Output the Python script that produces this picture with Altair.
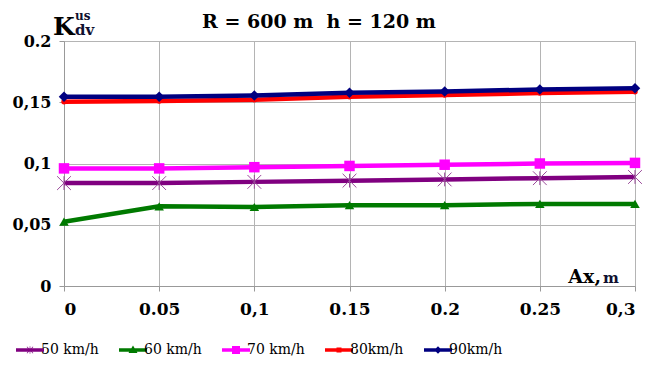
import altair as alt
import pandas as pd

ax = [0, 0.05, 0.1, 0.15, 0.2, 0.25, 0.3]
series = ["50 km/h", "60 km/h", "70 km/h", "80km/h", "90km/h"]
k50 = [0.084, 0.084, 0.085, 0.086, 0.087, 0.088, 0.089]
k60 = [0.0525, 0.065, 0.0645, 0.066, 0.066, 0.067, 0.067]
k70 = [0.096, 0.096, 0.097, 0.098, 0.099, 0.1, 0.1005]
k80 = [0.1505, 0.151, 0.152, 0.1545, 0.156, 0.1575, 0.1585]
k90 = [0.1545, 0.1545, 0.1555, 0.1578, 0.1587, 0.1605, 0.1615]
colors = ["#800080", "#007A00", "#FF00FF", "#FF0000", "#000080"]
x_ticks = [0, 0.05, 0.1, 0.15, 0.2, 0.25, 0.3]
y_ticks = [0, 0.05, 0.1, 0.15, 0.2]

rows = []
for name, vals in zip(series, [k50, k60, k70, k80, k90]):
    for a, v in zip(ax, vals):
        rows.append({"ax": a, "k": v, "series": name})
df = pd.DataFrame(rows)

FONT = "DejaVu Serif"

x_enc = alt.X("ax:Q", scale=alt.Scale(domain=[0, 0.3], nice=False),
              axis=alt.Axis(values=x_ticks, title=None,
                            labelExpr="datum.value==0?'0':datum.value==0.1?'0,1':datum.value==0.3?'0,3':format(datum.value,'.2~f')",
                            labelFont=FONT, labelFontSize=17, labelFontWeight="bold",
                            labelColor="black", labelPadding=10, tickSize=5,
                            tickColor="#999999", domainColor="#999999",
                            gridColor="#B4B4B4", gridWidth=1))
y_enc = alt.Y("k:Q", scale=alt.Scale(domain=[0, 0.2], nice=False),
              axis=alt.Axis(values=y_ticks, title=None,
                            labelExpr="datum.value==0?'0':datum.value==0.2?'0.2':replace(format(datum.value,'.2~f'),'.',',')",
                            labelFont=FONT, labelFontSize=16, labelFontWeight="bold",
                            labelColor="black", labelPadding=8, tickSize=5,
                            tickColor="#999999", domainColor="#999999",
                            gridColor="#B4B4B4", gridWidth=1))

base = alt.Chart(df)

def line(name):
    return base.transform_filter(alt.datum.series == name).mark_line(
        strokeWidth=4.5, color=colors[series.index(name)]
    ).encode(x=x_enc, y=y_enc, order=alt.Order("ax:Q"))

def pts(name, shape, size):
    return base.transform_filter(alt.datum.series == name).mark_point(
        filled=True, opacity=1, strokeWidth=0, shape=shape, size=size,
        color=colors[series.index(name)]
    ).encode(x="ax:Q", y="k:Q")

l50, l60, l70, l80, l90 = [line(s) for s in series]
p60 = pts("60 km/h", "triangle-up", 90)
p70 = pts("70 km/h", "square", 110)
p80 = pts("80km/h", "circle", 30)
p90 = pts("90km/h", "diamond", 110)

star_pts = base.transform_filter(alt.datum.series == "50 km/h").mark_point(
    shape="M-1,-1L1,1M-1,1L1,-1M0,-1V1", size=190, filled=False,
    stroke="#9A4A9A", strokeWidth=1, opacity=1
).encode(x="ax:Q", y="k:Q")

legend_paths = [
    "M-1.4,-0.18H1.4V0.18H-1.4Z M-0.03,-0.38H0.03V0.38H-0.03Z M-0.33,-0.3L-0.29,-0.34L0.33,0.3L0.29,0.34Z M0.29,-0.34L0.33,-0.3L-0.29,0.34L-0.33,0.3Z",
    "M-1.4,-0.18H1.4V0.18H-1.4Z M0,-0.45L0.45,0.3L-0.45,0.3Z",
    "M-1.4,-0.18H1.4V0.18H-1.4Z M-0.4,-0.4H0.4V0.4H-0.4Z",
    "M-1.4,-0.18H1.4V0.18H-1.4Z M-0.25,-0.25H0.25V0.25H-0.25Z",
    "M-1.4,-0.18H1.4V0.18H-1.4Z M0,-0.38L0.38,0L0,0.38L-0.38,0Z",
]

leg = dict(title=None, orient="none", legendX=-44, legendY=299,
           direction="horizontal", columns=5, columnPadding=20,
           symbolSize=400, symbolOpacity=1, symbolStrokeWidth=0,
           labelFont=FONT, labelFontSize=14, labelColor="black", labelOffset=1)

legend_layer = base.mark_point(filled=True, opacity=0, size=0).encode(
    x="ax:Q", y="k:Q",
    color=alt.Color("series:N", scale=alt.Scale(domain=series, range=colors),
                    legend=alt.Legend(**leg)),
    shape=alt.Shape("series:N", scale=alt.Scale(domain=series, range=legend_paths),
                    legend=alt.Legend(**leg)),
)

def txt(s, x, y, size, color="black", weight="bold", align="left", font=FONT):
    return alt.Chart(pd.DataFrame({"t": [s]})).mark_text(
        font=font, fontSize=size, fontWeight=weight, color=color,
        align=align, baseline="alphabetic"
    ).encode(text="t:N", x=alt.value(x), y=alt.value(y))

k_lbl = txt("K", -11, -6, 25)
us_lbl = txt("us", 11, -21, 12, "#101030")
dv_lbl = txt("dv", 11, -6, 15, "#101030")
ax_lbl = txt("Ax,", 537, 242, 19, align="right")
m_lbl = txt("m", 539, 242, 15, "#101030")
title_lbl = txt("R = 600 m\u00a0\u00a0h = 120 m", 255, -13, 19, align="center")

chart = alt.layer(
    l50, l60, l70, l80, l90, p60, p70, p80, p90, star_pts, legend_layer,
    k_lbl, us_lbl, dv_lbl, ax_lbl, m_lbl, title_lbl
).properties(
    width=571, height=245,
    autosize=alt.AutoSizeParams(type="none"),
    padding={"left": 56, "top": 33, "right": 15, "bottom": 70},
).configure_view(stroke=None).configure(background="white")

chart.save("out.html", embed_options={"renderer": "svg", "actions": False})
